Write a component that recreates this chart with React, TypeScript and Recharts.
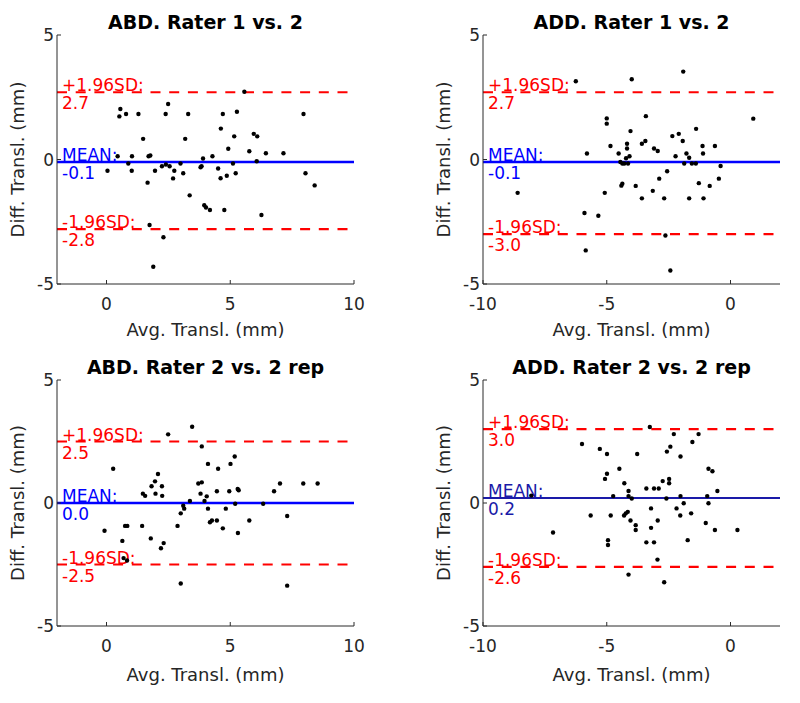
import React from 'react';
import { ScatterChart, Scatter, XAxis, YAxis, ReferenceLine } from 'recharts';

// ---------- data ----------
const abd12X = [5.57, 0.56, 0.52, 0.79, 1.29, 2.49, 2.39, 3.30, 4.70, 5.27, 7.96, 1.48, 3.18, 4.62, 5.16, 5.95, 6.09, 4.92, 5.77, 6.44, 7.15, 0.45, 1.03, 1.70, 1.77, 3.90, 4.28, 0.88, 1.02, 0.04, 1.96, 2.24, 2.55, 2.40, 2.74, 2.99, 3.10, 3.80, 3.84, 4.51, 5.11, 6.07, 4.61, 4.86, 5.22, 2.69, 1.66, 8.04, 8.41, 3.36, 3.95, 4.02, 4.18, 4.76, 6.26, 1.74, 2.30, 1.89];
const abd12Y = [2.72, 2.03, 1.73, 1.83, 1.83, 2.23, 1.83, 1.83, 1.83, 1.92, 1.83, 0.83, 0.83, 1.24, 0.93, 1.03, 0.93, 0.43, 0.33, 0.25, 0.25, 0.13, 0.13, 0.13, 0.16, 0.04, 0.13, -0.16, -0.45, -0.45, -0.45, -0.27, -0.27, -0.20, -0.45, -0.16, -0.55, -0.31, -0.27, -0.36, -0.16, -0.07, -0.75, -0.65, -0.55, -0.76, -0.93, -0.55, -1.04, -1.44, -1.84, -1.93, -2.03, -2.03, -2.23, -2.63, -3.12, -4.31];

const add12X = [-6.25, -3.99, -1.91, 0.92, -5.0, -5.0, -3.42, -4.04, -1.39, -2.35, -2.09, -1.93, -4.85, -4.18, -4.18, -3.58, -3.44, -3.09, -2.94, -1.13, -0.63, -5.80, -4.52, -4.45, -4.37, -4.29, -4.22, -4.14, -4.08, -2.22, -1.78, -1.67, -1.87, -1.56, -1.40, -1.11, -0.40, -0.47, -0.84, -1.28, -2.56, -2.88, -4.41, -4.37, -3.83, -3.14, -3.58, -2.68, -1.67, -1.09, -5.08, -8.60, -5.90, -5.34, -2.63, -5.85, -2.43];
const add12Y = [3.14, 3.22, 3.53, 1.64, 1.65, 1.44, 1.74, 1.14, 1.23, 0.94, 1.03, 0.74, 0.54, 0.63, 0.44, 0.63, 0.74, 0.44, 0.34, 0.54, 0.54, 0.24, 0.24, -0.10, -0.16, -0.16, 0.05, -0.16, 0.13, 0.13, 0.24, 0.07, -0.16, -0.16, -0.16, 0.24, -0.26, -0.77, -1.06, -0.95, -0.47, -0.77, -1.05, -0.97, -1.06, -1.26, -1.56, -1.56, -1.56, -1.56, -1.34, -1.34, -2.15, -2.26, -3.05, -3.65, -4.46];

const abd22X = [3.46, 2.49, 3.85, 5.18, 5.01, 4.10, 4.51, 0.27, 2.08, 1.96, 1.82, 2.24, 3.71, 3.85, 3.80, 4.05, 3.96, 4.46, 4.96, 5.30, 5.34, 1.47, 1.56, 1.98, 2.25, 6.77, 7.01, 7.95, 8.53, 6.33, 5.20, 3.37, 3.10, 3.14, 3.00, 2.87, 4.10, 4.82, 4.18, 4.26, 4.46, 4.70, 5.31, 5.77, 7.30, -0.08, 0.75, 0.84, 1.44, 0.64, 1.79, 2.31, 2.20, 0.69, 0.83, 3.00, 7.30];
const abd22Y = [3.10, 2.79, 2.30, 1.89, 1.59, 1.59, 1.39, 1.39, 1.18, 0.88, 0.68, 0.68, 0.79, 0.84, 0.38, 0.27, 0.08, 0.48, 0.48, 0.57, 0.52, 0.38, 0.29, 0.38, 0.29, 0.48, 0.79, 0.79, 0.79, -0.03, -0.03, 0.08, -0.11, -0.23, -0.42, -0.93, -0.23, -0.23, -0.78, -0.71, -0.71, -1.03, -1.22, -0.71, -0.53, -1.13, -0.93, -0.93, -0.93, -1.54, -1.44, -1.63, -1.84, -2.24, -2.34, -3.27, -3.36];

const add22X = [-3.26, -6.00, -5.28, -4.99, -3.77, -2.29, -1.29, -1.54, -2.43, -2.57, -2.02, -4.49, -4.99, -5.07, -0.89, -0.73, -4.29, -2.48, -2.48, -2.74, -4.12, -3.40, -3.09, -2.90, -4.74, -4.12, -3.99, -2.02, -0.94, -0.53, -2.59, -1.89, -0.89, -2.18, -2.03, -1.59, -3.21, -5.65, -4.84, -4.23, -4.15, -4.30, -4.04, -2.94, -3.83, -3.83, -3.21, -1.00, -0.63, 0.28, -7.17, -4.95, -4.95, -3.40, -3.09, -1.73, -2.95, -4.12, -2.68, -8.05];
const add22Y = [3.09, 2.40, 2.20, 1.99, 1.99, 2.80, 2.80, 2.48, 2.29, 2.09, 1.89, 1.39, 1.19, 0.98, 1.39, 1.29, 0.80, 0.98, 0.80, 0.89, 0.49, 0.59, 0.59, 0.59, 0.28, 0.28, 0.18, 0.28, 0.28, 0.49, 0.18, -0.01, -0.01, -0.22, -0.51, -0.42, -0.22, -0.51, -0.51, -0.42, -0.36, -0.51, -0.71, -0.71, -0.90, -1.10, -1.01, -0.81, -1.10, -1.10, -1.20, -1.51, -1.71, -1.60, -1.60, -1.51, -2.30, -2.91, -3.22, 0.30];

const titles = ['ABD. Rater 1 vs. 2', 'ADD. Rater 1 vs. 2', 'ABD. Rater 2 vs. 2 rep', 'ADD. Rater 2 vs. 2 rep'];
const upperLimits = [2.7, 2.7, 2.5, 3.0];
const meanValues = [-0.1, -0.1, 0.0, 0.2];
const lowerLimits = [-2.8, -3.0, -2.5, -2.6];
const abdXTicks = [0, 5, 10];
const addXTicks = [-10, -5, 0];
const yTicks = [-5, 0, 5];
const abdXDomain: [number, number] = [-2, 10];
const addXDomain: [number, number] = [-10, 2];
const yDomain: [number, number] = [-5, 5];
const xLabelText = 'Avg. Transl. (mm)';
const yLabelText = 'Diff. Transl. (mm)';

const zip = (xs: number[], ys: number[]) => xs.map((x, i) => ({ x, y: ys[i] }));

// ---------- styling ----------
const FONT = '"DejaVu Sans", "Liberation Sans", Arial, sans-serif';
const AXIS = '#2b2b2b';
const RED = '#ff0000';
const YW = 45;
const XH = 60;

type Plot = { x0: number; y0: number; x1: number; y1: number };

const AnnLabel = (props: any) => {
  const { viewBox, l1, l2, color } = props;
  const x = viewBox.x + 5;
  const y = viewBox.y;
  return (
    <g>
      <text x={x} y={y - 1} fontFamily={FONT} fontSize={17} fill={color}>{l1}</text>
      <text x={x} y={y + 17} fontFamily={FONT} fontSize={17} fill={color}>{l2}</text>
    </g>
  );
};

function Panel(props: {
  left: number; top: number; w: number; h: number; plot: Plot; title: string;
  xDomain: [number, number]; xTicks: number[]; data: { x: number; y: number }[];
  upper: number; mean: number; lower: number; meanColor: string; meanWidth: number;
  xLabelBase: number;
}) {
  const { left, top, w, h, plot, title, xDomain, xTicks, data, upper, mean, lower, meanColor, meanWidth, xLabelBase } = props;
  const margin = { top: plot.y0, left: plot.x0 - YW, right: w - plot.x1, bottom: h - plot.y1 - XH };

  const XTick = (p: any) => (
    <g>
      <line x1={p.x} x2={p.x} y1={plot.y1} y2={plot.y1 - 4} stroke={AXIS} strokeWidth={1} />
      <text x={p.x} y={p.y} dy="0.71em" textAnchor="middle" fontFamily={FONT} fontSize={17} fill="#262626">{p.payload.value}</text>
    </g>
  );
  const YTick = (p: any) => (
    <g>
      <line x1={plot.x0} x2={plot.x0 + 4} y1={p.y} y2={p.y} stroke={AXIS} strokeWidth={1} />
      <text x={p.x} y={p.y} dy="0.355em" textAnchor="end" fontFamily={FONT} fontSize={17} fill="#262626">{p.payload.value}</text>
    </g>
  );

  return (
    <div style={{ position: 'absolute', left, top, width: w, height: h }}>
      <ScatterChart width={w} height={h} margin={margin}>
        <XAxis
          type="number" dataKey="x" domain={xDomain} ticks={xTicks} allowDataOverflow
          height={XH} tickSize={0} tickMargin={14} tickLine={false} tick={XTick}
          axisLine={{ stroke: AXIS, strokeWidth: 1 }} interval={0}
          label={{
            content: (lp: any) => {
              const vb = lp.viewBox;
              return (
                <text x={vb.x + vb.width / 2} y={vb.y + xLabelBase} textAnchor="middle" fontFamily={FONT} fontSize={18} fill="#262626">{xLabelText}</text>
              );
            },
          }}
        />
        <YAxis
          type="number" dataKey="y" domain={yDomain} ticks={yTicks} allowDataOverflow
          width={YW} tickSize={0} tickMargin={3} tickLine={false} tick={YTick}
          axisLine={{ stroke: AXIS, strokeWidth: 1 }} interval={0}
          label={{
            content: (lp: any) => {
              const vb = lp.viewBox;
              const cx = vb.x + vb.width - 33;
              const cy = vb.y + vb.height / 2;
              return (
                <text x={cx} y={cy} transform={`rotate(-90 ${cx} ${cy})`} textAnchor="middle" fontFamily={FONT} fontSize={18} fill="#262626">{yLabelText}</text>
              );
            },
          }}
        />
        <Scatter
          data={data} isAnimationActive={false}
          shape={(sp: any) => <circle cx={sp.cx} cy={sp.cy} r={2.2} fill="#000" />}
        />
        <ReferenceLine
          y={upper} stroke={RED} strokeWidth={2.2} strokeDasharray="10 8.7"
          label={<AnnLabel l1="+1.96SD:" l2={upper.toFixed(1)} color={RED} />}
        />
        <ReferenceLine
          y={mean} stroke={meanColor} strokeWidth={meanWidth}
          label={<AnnLabel l1="MEAN:" l2={mean.toFixed(1)} color={meanColor} />}
        />
        <ReferenceLine
          y={lower} stroke={RED} strokeWidth={2.2} strokeDasharray="10 8.7"
          label={<AnnLabel l1="-1.96SD:" l2={lower.toFixed(1)} color={RED} />}
        />
      </ScatterChart>
      <svg width={w} height={h} style={{ position: 'absolute', left: 0, top: 0, pointerEvents: 'none' }}>
        <text x={(plot.x0 + plot.x1) / 2} y={plot.y0 - 6} textAnchor="middle" fontFamily={FONT} fontSize={19} fontWeight="bold" fill="#000">{title}</text>
      </svg>
    </div>
  );
}

export default function App() {
  const topPlotL: Plot = { x0: 57, y0: 35, x1: 354, y1: 284 };
  const topPlotR: Plot = { x0: 83, y0: 35, x1: 380, y1: 284 };
  const botPlotL: Plot = { x0: 57, y0: 30, x1: 354, y1: 276 };
  const botPlotR: Plot = { x0: 83, y0: 30, x1: 380, y1: 276 };
  return (
    <div style={{ position: 'absolute', left: 0, top: 0, width: 800, height: 703, background: '#fff', overflow: 'hidden' }}>
      <Panel left={0} top={0} w={400} h={350} plot={topPlotL} title={titles[0]} xDomain={abdXDomain} xTicks={abdXTicks}
        data={zip(abd12X, abd12Y)} upper={upperLimits[0]} mean={meanValues[0]} lower={lowerLimits[0]} meanColor="#0000ff" meanWidth={2.5} xLabelBase={52} />
      <Panel left={400} top={0} w={400} h={350} plot={topPlotR} title={titles[1]} xDomain={addXDomain} xTicks={addXTicks}
        data={zip(add12X, add12Y)} upper={upperLimits[1]} mean={meanValues[1]} lower={lowerLimits[1]} meanColor="#0000ff" meanWidth={2.5} xLabelBase={52} />
      <Panel left={0} top={350} w={400} h={353} plot={botPlotL} title={titles[2]} xDomain={abdXDomain} xTicks={abdXTicks}
        data={zip(abd22X, abd22Y)} upper={upperLimits[2]} mean={meanValues[2]} lower={lowerLimits[2]} meanColor="#0000ff" meanWidth={2.5} xLabelBase={55} />
      <Panel left={400} top={350} w={400} h={353} plot={botPlotR} title={titles[3]} xDomain={addXDomain} xTicks={addXTicks}
        data={zip(add22X, add22Y)} upper={upperLimits[3]} mean={meanValues[3]} lower={lowerLimits[3]} meanColor="#1a1aa8" meanWidth={2} xLabelBase={55} />
    </div>
  );
}
